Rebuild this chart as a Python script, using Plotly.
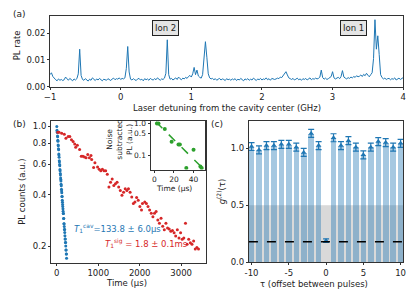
import numpy as np
import plotly.graph_objects as go

# ---------------- data ----------------
# (a) PL spectrum, detuning grid -1..4 GHz in 0.02 GHz steps
detuning = np.round(np.arange(-1.0, 4.0001, 0.02), 2)
pl_rate = [
    0.0045, 0.0052, 0.0038, 0.0030, 0.0026, 0.0022, 0.0029, 0.0024, 0.0027, 0.0023,
    0.0026, 0.0036, 0.0028, 0.0024, 0.0031, 0.0026, 0.0022, 0.0029, 0.0025, 0.0030,
    0.0048, 0.0140, 0.0042, 0.0027, 0.0024, 0.0030, 0.0025, 0.0021, 0.0028, 0.0024,
    0.0033, 0.0026, 0.0023, 0.0029, 0.0025, 0.0031, 0.0027, 0.0022, 0.0028, 0.0026,
    0.0024, 0.0030, 0.0027, 0.0023, 0.0029, 0.0032, 0.0026, 0.0030, 0.0028, 0.0033,
    0.0027, 0.0031, 0.0029, 0.0033, 0.0068, 0.0150, 0.0055, 0.0028, 0.0025, 0.0030,
    0.0026, 0.0023, 0.0029, 0.0031, 0.0025, 0.0028, 0.0022, 0.0030, 0.0026, 0.0029,
    0.0024, 0.0031, 0.0027, 0.0025, 0.0030, 0.0026, 0.0033, 0.0028, 0.0024, 0.0029,
    0.0027, 0.0032, 0.0050, 0.0175, 0.0045, 0.0028, 0.0031, 0.0025, 0.0029, 0.0033,
    0.0027, 0.0036, 0.0030, 0.0026, 0.0032, 0.0029, 0.0035, 0.0031, 0.0038, 0.0042,
    0.0036, 0.0048, 0.0072, 0.0045, 0.0062, 0.0040, 0.0035, 0.0032, 0.0045, 0.0095,
    0.0168, 0.0110, 0.0048, 0.0033, 0.0029, 0.0031, 0.0026, 0.0030, 0.0024, 0.0028,
    0.0031, 0.0025, 0.0029, 0.0027, 0.0023, 0.0030, 0.0026, 0.0028, 0.0024, 0.0029,
    0.0026, 0.0030, 0.0023, 0.0028, 0.0025, 0.0031, 0.0027, 0.0022, 0.0029, 0.0026,
    0.0030, 0.0024, 0.0028, 0.0025, 0.0032, 0.0027, 0.0023, 0.0029, 0.0026, 0.0031,
    0.0025, 0.0029, 0.0027, 0.0033, 0.0026, 0.0030, 0.0024, 0.0031, 0.0028, 0.0027,
    0.0029, 0.0032, 0.0030, 0.0036, 0.0034, 0.0041, 0.0049, 0.0056, 0.0044, 0.0033,
    0.0030, 0.0027, 0.0031, 0.0025, 0.0028, 0.0032, 0.0026, 0.0029, 0.0024, 0.0030,
    0.0027, 0.0031, 0.0025, 0.0029, 0.0033, 0.0026, 0.0030, 0.0028, 0.0032, 0.0029,
    0.0031, 0.0036, 0.0062, 0.0034, 0.0028, 0.0032, 0.0027, 0.0030, 0.0034, 0.0038,
    0.0056, 0.0033, 0.0029, 0.0031, 0.0035, 0.0030, 0.0038, 0.0060, 0.0036, 0.0032,
    0.0029, 0.0034, 0.0031, 0.0036, 0.0033, 0.0038, 0.0035, 0.0041, 0.0037, 0.0039,
    0.0044, 0.0038, 0.0046, 0.0041, 0.0050, 0.0043, 0.0037, 0.0045, 0.0052, 0.0105,
    0.0250, 0.0140, 0.0190, 0.0120, 0.0045, 0.0034, 0.0029, 0.0032, 0.0027, 0.0030,
    0.0031, 0.0026, 0.0030, 0.0028, 0.0033, 0.0025, 0.0029, 0.0032, 0.0027, 0.0030,
    0.0034,
]
ion_labels = ["Ion 2", "Ion 1"]
ion_label_x = [0.63, 3.29]
ion_label_y = [0.0218, 0.0218]

# (b) lifetime data
cav_time = [0, 4, 8, 12, 16, 20, 24, 28, 32, 36, 40, 44, 48, 52, 56, 60, 64, 68, 72, 76,
            80, 84, 88, 92, 96, 100, 104, 108, 112, 116, 120, 124, 128, 132, 136, 140,
            144, 148, 152, 156, 160, 164, 168, 172, 176, 180, 184, 188, 192, 196, 200,
            204, 208, 212, 216, 220, 224, 228, 232, 236]
cav_pl = [1.00, 0.95, 0.93, 0.92, 0.88, 0.87, 0.83, 0.82, 0.78, 0.77, 0.74, 0.73, 0.69,
          0.68, 0.66, 0.63, 0.62, 0.60, 0.59, 0.56, 0.55, 0.53, 0.52, 0.50, 0.49, 0.48,
          0.46, 0.45, 0.43, 0.42, 0.41, 0.39, 0.39, 0.37, 0.36, 0.35, 0.34, 0.33, 0.32,
          0.31, 0.31, 0.29, 0.29, 0.27, 0.27, 0.26, 0.25, 0.25, 0.24, 0.23, 0.22, 0.22,
          0.21, 0.21, 0.20, 0.19, 0.19, 0.18, 0.18, 0.17]
sig_time = [24, 55, 118, 181, 220, 275, 314, 354, 393, 432, 456, 495, 550, 590, 629, 668,
            707, 747, 786, 825, 841, 888, 920, 983, 1022, 1061, 1100, 1140, 1179, 1218,
            1258, 1297, 1336, 1376, 1415, 1454, 1493, 1533, 1572, 1611, 1651, 1690, 1729,
            1769, 1808, 1847, 1886, 1926, 1965, 2004, 2044, 2067, 2122, 2162, 2201, 2240,
            2279, 2319, 2358, 2397, 2437, 2476, 2515, 2555, 2594, 2633, 2672, 2712, 2751,
            2790, 2830, 2869, 2908, 2948, 2987, 3026, 3065, 3105, 3144, 3183, 3223, 3262,
            3301, 3341, 3380, 3419]
sig_pl = [0.924, 0.924, 0.912, 0.900, 0.854, 0.873, 0.873, 0.835, 0.817, 0.789, 0.755,
          0.775, 0.732, 0.670, 0.670, 0.662, 0.656, 0.685, 0.656, 0.676, 0.641, 0.575,
          0.614, 0.580, 0.562, 0.550, 0.562, 0.550, 0.550, 0.526, 0.442, 0.472, 0.493,
          0.451, 0.462, 0.472, 0.442, 0.423, 0.396, 0.413, 0.432, 0.423, 0.432, 0.413,
          0.387, 0.355, 0.362, 0.384, 0.371, 0.340, 0.325, 0.355, 0.362, 0.355, 0.340,
          0.325, 0.311, 0.297, 0.311, 0.318, 0.284, 0.272, 0.291, 0.261, 0.249, 0.272,
          0.255, 0.252, 0.244, 0.247, 0.239, 0.229, 0.249, 0.223, 0.239, 0.219, 0.223,
          0.272, 0.205, 0.219, 0.209, 0.205, 0.214, 0.192, 0.196, 0.192]
inset_time = [2.6, 4.2, 10.6, 17.6, 24.6, 26.0, 32.6, 40.0, 47.0, 48.3]
inset_pl = [1.0, 1.0, 0.67, 0.27, 0.22, 0.22, 0.040, 0.15, 0.045, 0.040]
fit_time = [1.6, 50.0]
fit_pl = [1.12, 0.038]

# (c) g2
tau = [-10, -9, -8, -7, -6, -5, -4, -3, -2, -1, 0, 1, 2, 3, 4, 5, 6, 7, 8, 9, 10]
g2 = [1.015, 0.985, 1.023, 1.023, 1.034, 1.034, 1.009, 0.963, 1.13, 1.023, 0.19,
      1.092, 1.023, 1.066, 1.009, 0.942, 1.009, 1.058, 1.05, 1.009, 1.043]
g2_err = [0.035, 0.035, 0.035, 0.035, 0.035, 0.035, 0.035, 0.035, 0.035, 0.035, 0.015,
          0.035, 0.035, 0.035, 0.035, 0.035, 0.035, 0.035, 0.035, 0.035, 0.035]
g2_fit_level = 0.18

# ---------------- figure ----------------
W, H = 416, 300
FONT = "DejaVu Sans"
BLUE = "#1f77b4"
RED = "#d62728"
GREEN = "#2ca02c"

def px(x):
    return x / W

def py(y):
    return 1 - y / H

fig = go.Figure()

# (a)
fig.add_trace(go.Scatter(x=detuning, y=pl_rate, mode="lines",
                         line=dict(color=BLUE, width=1), xaxis="x", yaxis="y",
                         showlegend=False))
# (b)
fig.add_trace(go.Scatter(x=cav_time, y=cav_pl, mode="markers",
                         marker=dict(color=BLUE, size=3), xaxis="x2", yaxis="y2",
                         showlegend=False))
fig.add_trace(go.Scatter(x=sig_time, y=sig_pl, mode="markers",
                         marker=dict(color=RED, size=3), xaxis="x2", yaxis="y2",
                         showlegend=False))
# inset
fig.add_trace(go.Scatter(x=fit_time, y=fit_pl, mode="lines",
                         line=dict(color=GREEN, width=1.5, dash="dash"),
                         xaxis="x4", yaxis="y4", showlegend=False))
fig.add_trace(go.Scatter(x=inset_time, y=inset_pl, mode="markers",
                         marker=dict(color=GREEN, size=4), xaxis="x4", yaxis="y4",
                         showlegend=False, cliponaxis=True))
# (c)
bar_vals = [v if t != 0 else None for t, v in zip(tau, g2)]
fig.add_trace(go.Bar(x=tau, y=bar_vals, width=0.75, marker=dict(color=BLUE, line=dict(width=0)),
                     opacity=0.4, xaxis="x3", yaxis="y3", showlegend=False))
fig.add_trace(go.Scatter(x=tau, y=g2, mode="markers",
                         marker=dict(color=BLUE, size=5, symbol="triangle-up"),
                         error_y=dict(type="data", array=g2_err, color=BLUE,
                                      thickness=1.2, width=3),
                         xaxis="x3", yaxis="y3", showlegend=False))

def axis_common(size=8.5):
    return dict(showline=True, mirror=True, linecolor="#333", linewidth=1,
                ticks="outside", ticklen=2, tickcolor="#333", showgrid=False,
                zeroline=False, tickfont=dict(family=FONT, size=size, color="#222"))

fig.update_layout(
    width=W, height=H, margin=dict(l=0, r=0, t=0, b=0),
    paper_bgcolor="white", plot_bgcolor="rgba(0,0,0,0)",
    font=dict(family=FONT, size=9, color="#222"),
    bargap=0,
    xaxis=dict(domain=[px(45), px(406)], range=[-1, 4], anchor="y",
               tickvals=[-1, 0, 1, 2, 3, 4], ticktext=["\u22121", "0", "1", "2", "3", "4"],
               **axis_common()),
    yaxis=dict(domain=[py(88), py(15)], range=[-0.0002, 0.0265], anchor="x",
               tickvals=[0, 0.01, 0.02], ticktext=["0.00", "0.01", "0.02"], **axis_common()),
    xaxis2=dict(domain=[px(46), px(204)], range=[-140, 3590], anchor="y2",
                tickvals=[0, 1000, 2000, 3000], **axis_common()),
    yaxis2=dict(domain=[py(267), py(122)], type="log",
                range=[np.log10(0.16), np.log10(1.082)], anchor="x2",
                tickvals=[0.2, 0.4, 0.6, 0.8, 1.0],
                ticktext=["0.2", "0.4", "0.6", "0.8", "1.0"], **axis_common()),
    xaxis3=dict(domain=[px(248.3), px(406)], range=[-10.35, 10.35], anchor="y3",
                tickvals=[-10, -5, 0, 5, 10], ticktext=["-10", "-5", "0", "5", "10"],
                **axis_common()),
    yaxis3=dict(domain=[py(266.7), py(122.3)], range=[0, 1.24], anchor="x3",
                tickvals=[0, 0.5, 1.0], ticktext=["0.0", "0.5", "1.0"], **axis_common()),
    xaxis4=dict(domain=[px(147.7), px(203.3)], range=[-4, 51.6], anchor="y4",
                tickvals=[0, 20, 40], **axis_common(7.5)),
    yaxis4=dict(domain=[py(172), py(122)], type="log",
                range=[np.log10(0.036), np.log10(1.24)], anchor="x4",
                tickvals=[0.1, 0.5, 1.0], ticktext=["0.1", "0.5", "1.0"], **axis_common(7.5)),
)

# inset background (white)
fig.add_shape(type="rect", xref="x4 domain", yref="y4 domain", x0=0, x1=1, y0=0, y1=1,
              fillcolor="white", line=dict(width=0), layer="below")
# grey region in (c)
fig.add_shape(type="rect", xref="x3 domain", yref="y3", x0=0, x1=1, y0=0, y1=0.5,
              fillcolor="#d9d9d9", line=dict(width=0), layer="below")
fig.add_shape(type="line", xref="x3 domain", yref="y3", x0=0, x1=1,
              y0=g2_fit_level, y1=g2_fit_level,
              line=dict(color="black", width=1.5, dash="dash"), layer="above")

ann = []
def text(x, y, s, size=8.5, color="#222", angle=0, xanchor="center"):
    ann.append(dict(x=px(x), y=py(y), xref="paper", yref="paper", text=s, showarrow=False,
                    textangle=angle, xanchor=xanchor, yanchor="middle",
                    font=dict(family=FONT, size=size, color=color)))

text(14, 13, "(a)", size=9)
text(14, 125, "(b)", size=9)
text(216, 125, "(c)", size=9)
text(226, 109, "Laser detuning from the cavity center (GHz)")
text(11.5, 45, "PL rate", angle=-90)
text(16, 195, "PL counts (a.u.)", angle=-90)
text(123, 288, "Time (\u00b5s)")
text(171.5, 191, "Time (\u00b5s)", size=7.5)
ann.append(dict(x=px(116), y=py(141), xref="paper", yref="paper",
                text="Noise<br>subtracted<br>PL (a.u.)", showarrow=False, textangle=-90,
                xanchor="center", yanchor="middle",
                font=dict(family=FONT, size=7.5, color="#222")))
text(220, 194, "<i>g</i><sup>(2)</sup>(\u03c4)", angle=-90)
text(315, 289, "\u03c4 (offset between pulses)")
text(67, 232, "<i>T</i><sub>1</sub><sup>cav</sup>=133.8 \u00b1 6.0\u00b5s", color=BLUE,
     xanchor="left")
text(99, 247, "<i>T</i><sub>1</sub><sup>sig</sup> = 1.8 \u00b1 0.1ms", color=RED,
     xanchor="left")

for lbl, xv, yv in zip(ion_labels, ion_label_x, ion_label_y):
    ann.append(dict(x=xv, y=yv, xref="x", yref="y", text=lbl, showarrow=False,
                    bgcolor="#e4e4e4", bordercolor="#222", borderwidth=1, borderpad=2,
                    font=dict(family=FONT, size=8.5, color="#222")))

fig.update_layout(annotations=ann)
fig.write_html("out.html", config={"displayModeBar": False},
               post_script="document.body.style.margin='0';document.body.style.overflow='hidden';")
